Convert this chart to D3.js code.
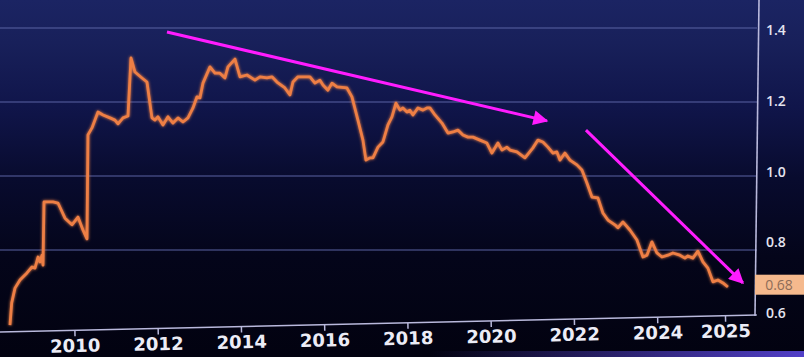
<!DOCTYPE html>
<html>
<head>
<meta charset="utf-8">
<script src="https://cdn.jsdelivr.net/npm/d3@7"></script>
<style>
  html, body { margin: 0; padding: 0; background: #05061a; }
  svg { display: block; }
</style>
</head>
<body>
<svg id="chart" width="804" height="357"></svg>
<script>
// ---- data (decimal year, value) ----
const years = [
  2008.453, 2008.494, 2008.573, 2008.693, 2008.861, 2008.981, 2009.054, 2009.126, 2009.174, 2009.222,
  2009.246, 2009.270, 2009.486, 2009.606, 2009.774, 2009.942, 2010.086, 2010.206, 2010.302, 2010.326,
  2010.422, 2010.566, 2010.687, 2010.855, 2010.975, 2011.047, 2011.167, 2011.287, 2011.359, 2011.455,
  2011.623, 2011.743, 2011.863, 2011.935, 2012.007, 2012.127, 2012.248, 2012.368, 2012.488, 2012.608,
  2012.728, 2012.848, 2012.944, 2013.016, 2013.088, 2013.256, 2013.376, 2013.496, 2013.616, 2013.688,
  2013.857, 2013.977, 2014.145, 2014.337, 2014.457, 2014.625, 2014.745, 2014.865, 2015.057, 2015.177,
  2015.249, 2015.369, 2015.658, 2015.778, 2015.898, 2015.970, 2016.090, 2016.186, 2016.306, 2016.546,
  2016.666, 2016.810, 2016.930, 2017.002, 2017.099, 2017.171, 2017.291, 2017.411, 2017.531, 2017.627,
  2017.723, 2017.819, 2017.891, 2017.987, 2018.059, 2018.131, 2018.251, 2018.371, 2018.467, 2018.539,
  2018.660, 2018.828, 2018.972, 2019.092, 2019.212, 2019.332, 2019.452, 2019.572, 2019.740, 2019.908,
  2020.028, 2020.172, 2020.269, 2020.389, 2020.461, 2020.629, 2020.821, 2021.013, 2021.133, 2021.253,
  2021.373, 2021.493, 2021.589, 2021.661, 2021.781, 2021.902, 2022.070, 2022.190, 2022.310, 2022.430,
  2022.574, 2022.694, 2022.814, 2022.982, 2023.054, 2023.174, 2023.342, 2023.511, 2023.655, 2023.751,
  2023.871, 2023.991, 2024.111, 2024.255, 2024.375, 2024.543, 2024.663, 2024.735, 2024.855, 2024.975,
  2025.096, 2025.216, 2025.336, 2025.456, 2025.576, 2025.696
];
const values = [
  0.597, 0.657, 0.697, 0.719, 0.738, 0.754, 0.751, 0.781, 0.768, 0.786,
  0.759, 0.930, 0.930, 0.927, 0.886, 0.868, 0.889, 0.854, 0.830, 1.111,
  1.130, 1.173, 1.165, 1.157, 1.151, 1.141, 1.157, 1.162, 1.319, 1.281,
  1.265, 1.254, 1.157, 1.151, 1.160, 1.138, 1.160, 1.143, 1.157, 1.146,
  1.157, 1.184, 1.214, 1.211, 1.251, 1.295, 1.278, 1.278, 1.265, 1.295,
  1.316, 1.268, 1.273, 1.259, 1.268, 1.265, 1.268, 1.254, 1.238, 1.219,
  1.254, 1.268, 1.268, 1.251, 1.259, 1.246, 1.232, 1.251, 1.241, 1.238,
  1.214, 1.151, 1.097, 1.043, 1.049, 1.049, 1.078, 1.092, 1.138, 1.160,
  1.197, 1.178, 1.184, 1.173, 1.178, 1.165, 1.184, 1.178, 1.184, 1.184,
  1.165, 1.143, 1.116, 1.119, 1.124, 1.111, 1.105, 1.105, 1.097, 1.089,
  1.062, 1.089, 1.070, 1.078, 1.070, 1.065, 1.049, 1.076, 1.097, 1.092,
  1.078, 1.062, 1.065, 1.043, 1.062, 1.043, 1.030, 1.016, 0.981, 0.943,
  0.941, 0.900, 0.881, 0.868, 0.860, 0.876, 0.854, 0.827, 0.781, 0.786,
  0.822, 0.792, 0.781, 0.786, 0.792, 0.786, 0.778, 0.784, 0.778, 0.797,
  0.768, 0.751, 0.714, 0.719, 0.711, 0.700
];
const yTicks = [0.6, 0.8, 1.0, 1.2, 1.4];
const yTickLabels = ["0.6", "0.8", "1.0", "1.2", "1.4"];
const gridValues = [0.8, 1.0, 1.2, 1.4];
const xTickValues = [2010, 2012, 2014, 2016, 2018, 2020, 2022, 2024, 2025.63];
const xTickLabels = ["2010", "2012", "2014", "2016", "2018", "2020", "2022", "2024", "2025"];
const lastValue = 0.68;
const lastLabel = "0.68";
// annotation arrows: [startYear, startValue, endYear, endValue]
const arrows = [
  [2012.223, 1.389, 2021.349, 1.149],
  [2022.286, 1.124, 2026.056, 0.711]
];

// ---- layout ----
const W = 804, H = 357;
const frameRight = 757;
const svg = d3.select("#chart");

const x = d3.scaleLinear().domain([2010, 2024]).range([74.4, 657.3]);
const y = d3.scaleLinear().domain([0.6, 1.4]).range([324, 28]);
// right-side label scale (labels sit slightly differently due to perspective of the screen)
const yLab = d3.scaleLinear().domain([0.6, 1.4]).range([313, 30]);

const defs = svg.append("defs");
const bg = defs.append("linearGradient").attr("id", "bg").attr("x1", 0).attr("y1", 0).attr("x2", 0).attr("y2", 1);
[[0, "#1b2463"], [0.12, "#18205a"], [0.3, "#10154a"], [0.5, "#080b2e"], [0.72, "#04051a"], [1, "#020210"]]
  .forEach(([o, c]) => bg.append("stop").attr("offset", o).attr("stop-color", c));
const strip = defs.append("linearGradient").attr("id", "strip").attr("x1", 0).attr("y1", 0).attr("x2", 1).attr("y2", 0);
strip.append("stop").attr("offset", 0).attr("stop-color", "#5a46dc").attr("stop-opacity", 0);
strip.append("stop").attr("offset", 1).attr("stop-color", "#5a46dc").attr("stop-opacity", 0.9);

const glow = defs.append("filter").attr("id", "glow").attr("x", "-5%").attr("y", "-5%").attr("width", "110%").attr("height", "110%");
glow.append("feGaussianBlur").attr("in", "SourceGraphic").attr("stdDeviation", 1.6).attr("result", "b");
const fm = glow.append("feMerge");
fm.append("feMergeNode").attr("in", "b");
fm.append("feMergeNode").attr("in", "SourceGraphic");

defs.append("marker").attr("id", "arrowHead")
  .attr("viewBox", "0 0 10 10").attr("refX", 9).attr("refY", 5)
  .attr("markerWidth", 6).attr("markerHeight", 5).attr("markerUnits", "strokeWidth")
  .attr("orient", "auto")
  .append("path").attr("d", "M0,0 L10,5 L0,10 z").attr("fill", "#ff1cff");

svg.append("rect").attr("width", W).attr("height", H).attr("fill", "url(#bg)");
svg.append("rect").attr("x", 430).attr("y", 351).attr("width", W - 430).attr("height", 6).attr("fill", "url(#strip)");

// gridlines
svg.append("g").selectAll("line").data(gridValues).join("line")
  .attr("x1", 0).attr("x2", frameRight)
  .attr("y1", d => y(d)).attr("y2", d => y(d))
  .attr("stroke", "#5d66a8").attr("stroke-opacity", 0.65).attr("stroke-width", 1.3);

// right frame line
svg.append("line").attr("x1", frameRight + 2).attr("y1", 0).attr("x2", frameRight - 2).attr("y2", 316)
  .attr("stroke", "#b9b9dc").attr("stroke-width", 1.6);

// x axis (tilted slightly like the photographed screen)
const xAxisG = svg.append("g").attr("transform", "translate(0,332) rotate(-1.29)");
xAxisG.append("line").attr("x1", 0).attr("x2", frameRight).attr("y1", 0).attr("y2", 0)
  .attr("stroke", "#b9b9dc").attr("stroke-width", 1.6);
xAxisG.call(d3.axisBottom(x).tickValues(xTickValues).tickSize(6).tickPadding(3)
  .tickFormat((d, i) => xTickLabels[i]));
xAxisG.select(".domain").remove();
xAxisG.selectAll(".tick line").attr("stroke", "#b9b9dc").attr("stroke-width", 1.5);
xAxisG.selectAll(".tick text")
  .attr("fill", "#ececf6")
  .style("font-family", "'DejaVu Sans', sans-serif")
  .style("font-weight", "bold")
  .style("font-size", "18px");

// right labels
svg.append("g").selectAll("text").data(yTicks).join("text")
  .attr("x", 766).attr("y", d => yLab(d)).attr("dy", "0.36em")
  .attr("fill", "#e4e4f0")
  .style("font-family", "'Open Sans', sans-serif")
  .style("font-weight", 600)
  .style("font-size", "14px")
  .text((d, i) => yTickLabels[i]);

// last value tag
svg.append("rect").attr("x", 755).attr("y", yLab(lastValue) - 10).attr("width", W - 755).attr("height", 20)
  .attr("fill", "#f5b98d");
svg.append("text").attr("x", 779).attr("y", yLab(lastValue)).attr("dy", "0.36em")
  .attr("text-anchor", "middle")
  .attr("fill", "#8e6c58")
  .style("font-family", "'Open Sans', sans-serif")
  .style("font-size", "14px")
  .text(lastLabel);

// the series line
const data = years.map((yr, i) => ({ t: yr, v: values[i] }));
svg.append("path").datum(data)
  .attr("fill", "none")
  .attr("stroke", "#ee7f45")
  .attr("stroke-width", 2.8)
  .attr("stroke-linejoin", "round")
  .attr("filter", "url(#glow)")
  .attr("d", d3.line().x(d => x(d.t)).y(d => y(d.v)));

// annotation arrows
svg.append("g").selectAll("line").data(arrows).join("line")
  .attr("x1", d => x(d[0])).attr("y1", d => y(d[1]))
  .attr("x2", d => x(d[2])).attr("y2", d => y(d[3]))
  .attr("stroke", "#ff1cff").attr("stroke-width", 3)
  .attr("marker-end", "url(#arrowHead)");
</script>
</body>
</html>
